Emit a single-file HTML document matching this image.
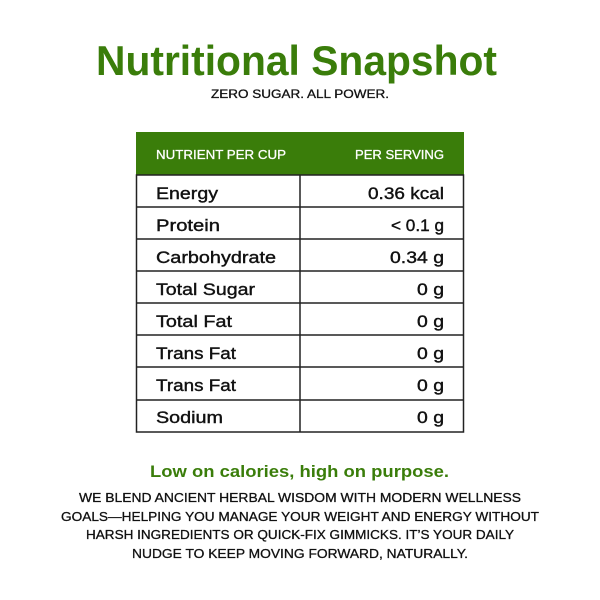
<!DOCTYPE html>
<html><head><style>body{margin:0;background:#fff}svg{display:block}</style></head>
<body>
<svg width="600" height="600" viewBox="0 0 600 600" xmlns="http://www.w3.org/2000/svg" font-family="Liberation Sans, sans-serif">
<rect width="600" height="600" fill="#fff"/>
<text x="96" y="75" font-size="42" font-weight="bold" fill="#3a7d0a" textLength="401" lengthAdjust="spacingAndGlyphs">Nutritional Snapshot</text>
<text x="211" y="98" font-size="12" fill="#111" stroke="#111" stroke-width="0.3" textLength="178" lengthAdjust="spacingAndGlyphs">ZERO SUGAR. ALL POWER.</text>
<rect x="136" y="132" width="328" height="43" fill="#3a7d0a"/>
<text x="156" y="159" font-size="13" fill="#fff" stroke="#fff" stroke-width="0.3" textLength="130" lengthAdjust="spacingAndGlyphs">NUTRIENT PER CUP</text>
<text x="355" y="159" font-size="13" fill="#fff" stroke="#fff" stroke-width="0.3" textLength="89" lengthAdjust="spacingAndGlyphs">PER SERVING</text>
<g stroke="#222" stroke-width="1.5" fill="none">
<rect x="136.5" y="175" width="327" height="257"/>
<line x1="300" y1="175" x2="300" y2="432"/>
<line x1="136" y1="207" x2="464" y2="207"/>
<line x1="136" y1="239" x2="464" y2="239"/>
<line x1="136" y1="271" x2="464" y2="271"/>
<line x1="136" y1="303" x2="464" y2="303"/>
<line x1="136" y1="335" x2="464" y2="335"/>
<line x1="136" y1="367" x2="464" y2="367"/>
<line x1="136" y1="400" x2="464" y2="400"/>
</g>
<g font-size="17" fill="#111" stroke="#111" stroke-width="0.4">
<text x="156" y="199" textLength="62" lengthAdjust="spacingAndGlyphs">Energy</text><text x="368" y="199" textLength="76" lengthAdjust="spacingAndGlyphs">0.36 kcal</text>
<text x="156" y="231" textLength="64" lengthAdjust="spacingAndGlyphs">Protein</text><text x="391" y="231" textLength="53" lengthAdjust="spacingAndGlyphs">&lt; 0.1 g</text>
<text x="156" y="263" textLength="120" lengthAdjust="spacingAndGlyphs">Carbohydrate</text><text x="390" y="263" textLength="54" lengthAdjust="spacingAndGlyphs">0.34 g</text>
<text x="156" y="295" textLength="99" lengthAdjust="spacingAndGlyphs">Total Sugar</text><text x="417" y="295" textLength="27" lengthAdjust="spacingAndGlyphs">0 g</text>
<text x="156" y="327" textLength="76" lengthAdjust="spacingAndGlyphs">Total Fat</text><text x="417" y="327" textLength="27" lengthAdjust="spacingAndGlyphs">0 g</text>
<text x="156" y="359" textLength="80" lengthAdjust="spacingAndGlyphs">Trans Fat</text><text x="417" y="359" textLength="27" lengthAdjust="spacingAndGlyphs">0 g</text>
<text x="156" y="391" textLength="80" lengthAdjust="spacingAndGlyphs">Trans Fat</text><text x="417" y="391" textLength="27" lengthAdjust="spacingAndGlyphs">0 g</text>
<text x="156" y="423" textLength="67" lengthAdjust="spacingAndGlyphs">Sodium</text><text x="417" y="423" textLength="27" lengthAdjust="spacingAndGlyphs">0 g</text>
</g>
<text x="150" y="477" font-size="17" font-weight="bold" fill="#3a7d0a" textLength="299" lengthAdjust="spacingAndGlyphs">Low on calories, high on purpose.</text>
<g font-size="13" fill="#111" stroke="#111" stroke-width="0.3">
<text x="79" y="502" textLength="442" lengthAdjust="spacingAndGlyphs">WE BLEND ANCIENT HERBAL WISDOM WITH MODERN WELLNESS</text>
<text x="61" y="521" textLength="478" lengthAdjust="spacingAndGlyphs">GOALS—HELPING YOU MANAGE YOUR WEIGHT AND ENERGY WITHOUT</text>
<text x="86" y="539" textLength="428" lengthAdjust="spacingAndGlyphs">HARSH INGREDIENTS OR QUICK-FIX GIMMICKS. IT’S YOUR DAILY</text>
<text x="132" y="558" textLength="336" lengthAdjust="spacingAndGlyphs">NUDGE TO KEEP MOVING FORWARD, NATURALLY.</text>
</g>
</svg>
</body></html>
